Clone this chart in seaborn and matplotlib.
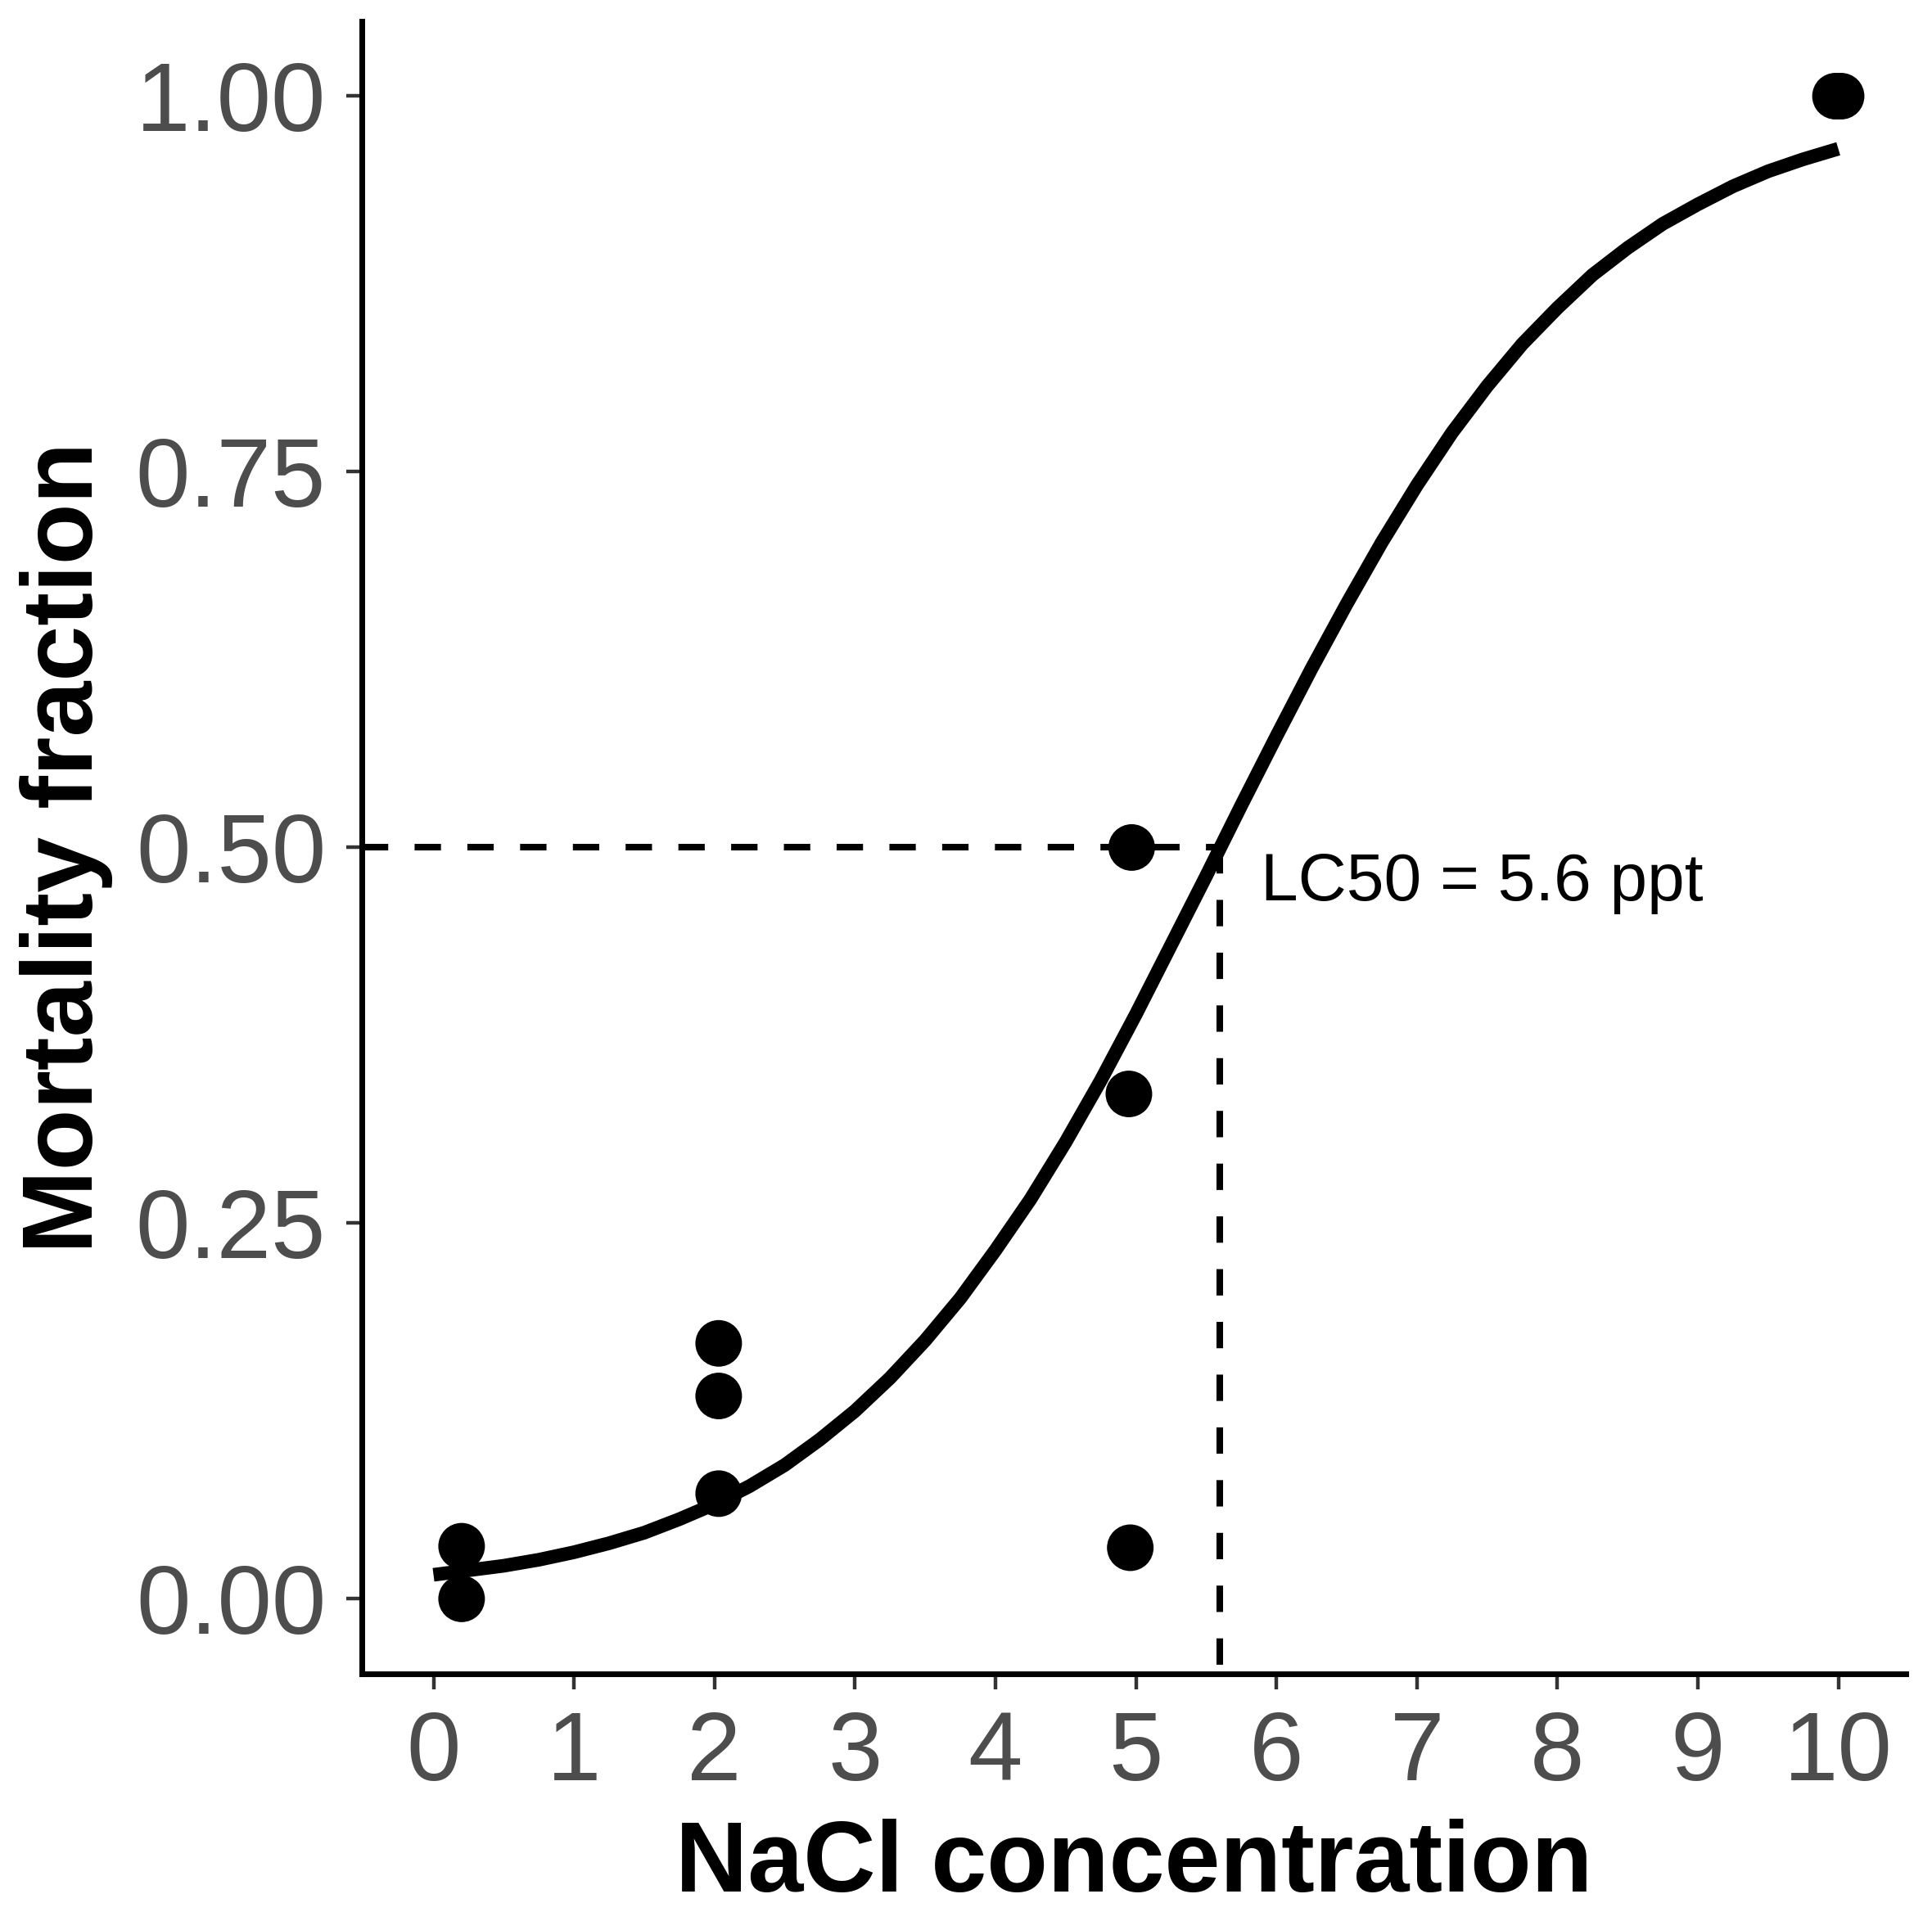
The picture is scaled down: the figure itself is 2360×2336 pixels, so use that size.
"""Dose-response curve: mortality fraction vs NaCl concentration with LC50."""

import pandas as pd
import seaborn as sns
import matplotlib.pyplot as plt

OUTPUT_FILE = "out.png"

CONC = [0.2, 0.2, 2.03, 2.03, 2.03, 4.97, 4.95, 4.96, 9.98, 10.02]
MORTALITY = [0.0, 0.035, 0.07, 0.135, 0.17, 0.5, 0.336, 0.034, 1.0, 1.0]

# Fitted logistic curve
FIT_CONC = [0.0, 0.25, 0.5, 0.75, 1.0, 1.25, 1.5, 1.75, 2.0, 2.25,
            2.5, 2.75, 3.0, 3.25, 3.5, 3.75, 4.0, 4.25, 4.5, 4.75,
            5.0, 5.25, 5.5, 5.75, 6.0, 6.25, 6.5, 6.75, 7.0, 7.25,
            7.5, 7.75, 8.0, 8.25, 8.5, 8.75, 9.0, 9.25, 9.5, 9.75, 10.0]
FIT_MORT = [0.016, 0.019, 0.022, 0.026, 0.031, 0.037, 0.044, 0.053, 0.063,
            0.075, 0.089, 0.106, 0.125, 0.147, 0.172, 0.2, 0.232, 0.266,
            0.304, 0.345, 0.389, 0.435, 0.481, 0.528, 0.574, 0.619, 0.662,
            0.703, 0.741, 0.776, 0.807, 0.835, 0.859, 0.881, 0.899, 0.915,
            0.928, 0.94, 0.95, 0.958, 0.965]

LC50 = 5.6
LC_LEVEL = 0.5
LC50_LABEL = "LC50 = 5.6 ppt"

X_TICKS = list(range(0, 11))
Y_TICKS = [0.0, 0.25, 0.5, 0.75, 1.0]
Y_TICK_LABELS = ["0.00", "0.25", "0.50", "0.75", "1.00"]


def plot_lc50():
    obs = pd.DataFrame({"conc": CONC, "mort": MORTALITY})
    fit = pd.DataFrame({"conc": FIT_CONC, "mort": FIT_MORT})

    sns.set_theme(style="ticks")
    plt.rcParams["font.family"] = ["Liberation Sans", "DejaVu Sans"]

    fig = plt.figure(figsize=(11.8, 11.68), dpi=200)
    ax = fig.add_axes([0.1873, 0.1245, 0.9864 - 0.1873, 0.989 - 0.1245])

    ax.set_xlim(-0.51, 10.48)
    ax.set_ylim(-0.05, 1.05)

    # LC50 guides
    x_left = ax.get_xlim()[0]
    y_bottom = ax.get_ylim()[0]
    ax.hlines(LC_LEVEL, x_left, LC50, colors="black", linewidth=2.9,
              linestyles=(0, (4, 4)), zorder=2)
    ax.vlines(LC50, LC_LEVEL, y_bottom, colors="black", linewidth=2.9,
              linestyles=(0, (4, 4)), zorder=2)

    sns.lineplot(data=fit, x="conc", y="mort", color="black", linewidth=6,
                 ax=ax, zorder=3, solid_capstyle="butt",
                 solid_joinstyle="round")
    sns.scatterplot(data=obs, x="conc", y="mort", color="black", s=420,
                    edgecolor="none", linewidth=0, ax=ax, zorder=4)

    ax.text(5.89, 0.476, LC50_LABEL, fontsize=29.5, ha="left", va="center",
            color="black")

    ax.set_xticks(X_TICKS)
    ax.set_yticks(Y_TICKS)
    ax.set_yticklabels(Y_TICK_LABELS)
    ax.tick_params(axis="both", labelsize=43, labelcolor="#4D4D4D",
                   length=6.8, width=1.6, color="#333333", pad=9)

    ax.set_xlabel("NaCl concentration", fontsize=44, fontweight="bold",
                  labelpad=8, color="black")
    ax.set_ylabel("Mortality fraction", fontsize=44, fontweight="bold",
                  labelpad=10, color="black")

    sns.despine(ax=ax)
    for side in ["left", "bottom"]:
        ax.spines[side].set_linewidth(2.5)
        ax.spines[side].set_color("black")

    fig.savefig(OUTPUT_FILE, dpi=200)


if __name__ == "__main__":
    plot_lc50()
